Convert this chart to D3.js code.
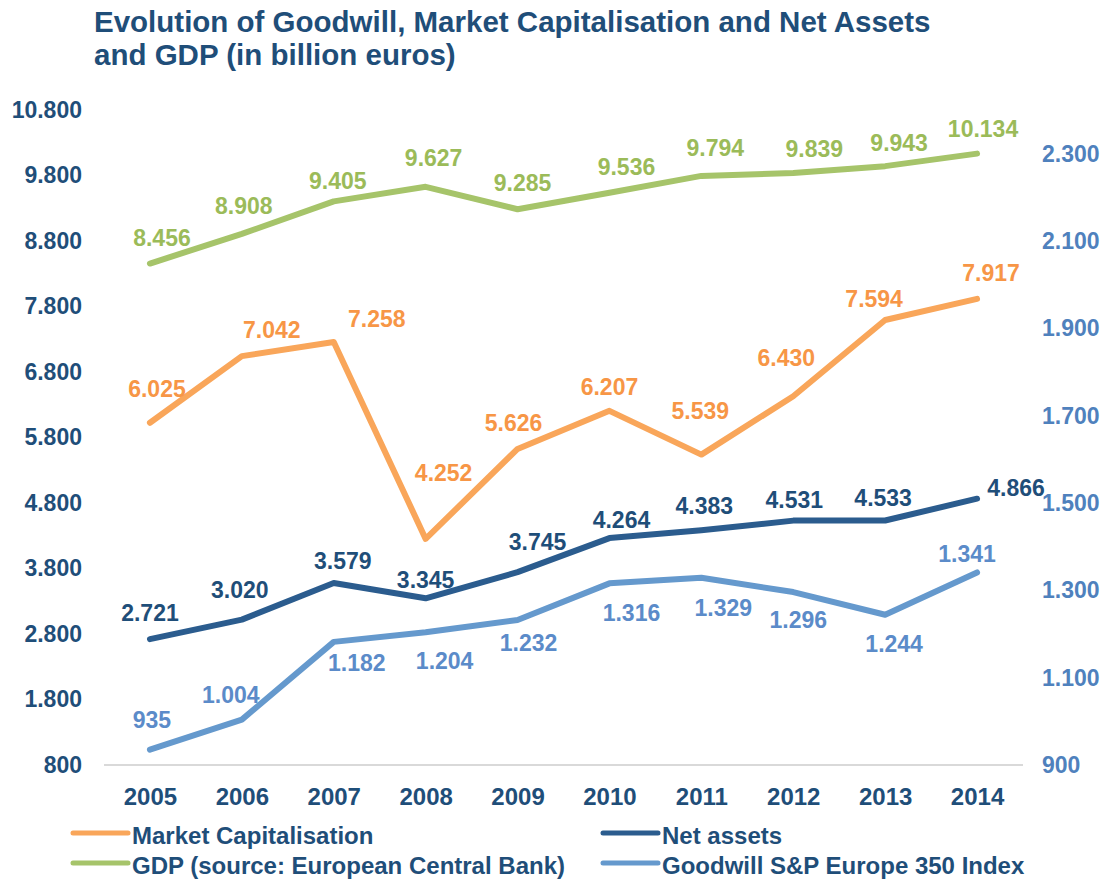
<!DOCTYPE html>
<html>
<head>
<meta charset="utf-8">
<script src="https://cdn.jsdelivr.net/npm/d3@7"></script>
<style>
  body { margin: 0; background: #fff; }
  text { font-family: "Liberation Sans", Arial, sans-serif; font-weight: bold; }
</style>
</head>
<body>
<div id="chart"></div>
<script>
// data (billion euros)
const years = ["2005", "2006", "2007", "2008", "2009", "2010", "2011", "2012", "2013", "2014"];
const marketCap = [6025, 7042, 7258, 4252, 5626, 6207, 5539, 6430, 7594, 7917];
const gdp = [8456, 8908, 9405, 9627, 9285, 9536, 9794, 9839, 9943, 10134];
const netAssets = [2721, 3020, 3579, 3345, 3745, 4264, 4383, 4531, 4533, 4866];
const goodwill = [935, 1004, 1182, 1204, 1232, 1316, 1329, 1296, 1244, 1341];
const leftTicks = [800, 1800, 2800, 3800, 4800, 5800, 6800, 7800, 8800, 9800, 10800];
const rightTicks = [900, 1100, 1300, 1500, 1700, 1900, 2100, 2300];

const width = 1110;
const height = 881;
const navy = "#1F4E79";

const svg = d3.select("#chart")
    .append("svg")
    .attr("width", width)
    .attr("height", height);

// scales
const x = d3.scalePoint().domain(years).range([104, 1023]).padding(0.5);
const yLeft = d3.scaleLinear().domain([800, 10800]).range([765, 110]);
const yRight = d3.scaleLinear().domain([900, 2400]).range([765, 110]);

// 1.234 style numbers
const fmt = d3.formatLocale({ decimal: ",", thousands: ".", grouping: [3], currency: ["", ""] }).format(",d");

// title
const title = svg.append("text")
    .attr("x", 94)
    .attr("y", 32)
    .attr("fill", navy)
    .style("font-size", "29.5px");
title.append("tspan").attr("x", 94).text("Evolution of Goodwill, Market Capitalisation and Net Assets");
title.append("tspan").attr("x", 94).attr("dy", 33).text("and GDP (in billion euros)");

// baseline
svg.append("line")
    .attr("x1", 104).attr("x2", 1023)
    .attr("y1", 765).attr("y2", 765)
    .attr("stroke", "#D9D9D9")
    .attr("stroke-width", 2);

// axes
const leftAxis = svg.append("g")
    .attr("transform", "translate(82,0)")
    .call(d3.axisLeft(yLeft).tickValues(leftTicks).tickFormat(fmt).tickSize(0).tickPadding(0));
const rightAxis = svg.append("g")
    .attr("transform", "translate(1042,0)")
    .call(d3.axisRight(yRight).tickValues(rightTicks).tickFormat(fmt).tickSize(0).tickPadding(0));
const xAxis = svg.append("g")
    .attr("transform", "translate(0,765)")
    .call(d3.axisBottom(x).tickSize(0).tickPadding(23));

[leftAxis, rightAxis, xAxis].forEach(function (g) {
    g.select(".domain").remove();
    g.selectAll("text")
        .attr("font-family", null)
        .style("font-size", "23px")
        .attr("fill", navy);
});
xAxis.selectAll("text").style("font-size", "24px");
rightAxis.selectAll("text").attr("fill", "#4F81BD");

// series
const series = [
    { name: "GDP (source: European Central Bank)", values: gdp, y: yLeft, line: "#A6C46A", label: "#9BBB59",
      nudge: [[12, -26], [2, -28], [4, -20], [8, -29], [5, -26], [17, -26], [14, -28], [21, -24], [14, -23], [6, -25]] },
    { name: "Market Capitalisation", values: marketCap, y: yLeft, line: "#F9A65A", label: "#F79646",
      nudge: [[7, -34], [30, -26], [43, -23], [18, -66], [-4, -26], [0, -24], [-1, -44], [-7, -38], [-11, -21], [14, -26]] },
    { name: "Net assets", values: netAssets, y: yLeft, line: "#2B5C8E", label: navy,
      nudge: [[0, -26], [-2, -30], [9, -22], [0, -18], [20, -30], [12, -18], [3, -24], [1, -21], [-2, -22], [39, -11]] },
    { name: "Goodwill S&P Europe 350 Index", values: goodwill, y: yRight, line: "#6599CD", label: "#5B8BC9",
      nudge: [[2, -30], [-11, -25], [23, 21], [19, 29], [11, 23], [22, 30], [22, 30], [5, 28], [9, 29], [-10, -18]] }
];

series.forEach(function (s) {
    const pts = years.map(function (yr, i) { return [x(yr), s.y(s.values[i])]; });

    svg.append("path")
        .datum(pts)
        .attr("fill", "none")
        .attr("stroke", s.line)
        .attr("stroke-width", 6)
        .attr("stroke-linecap", "round")
        .attr("stroke-linejoin", "round")
        .attr("d", d3.line());

    svg.append("g")
        .selectAll("text")
        .data(pts)
        .join("text")
        .attr("x", function (d, i) { return d[0] + s.nudge[i][0]; })
        .attr("y", function (d, i) { return d[1] + s.nudge[i][1]; })
        .attr("text-anchor", "middle")
        .attr("dominant-baseline", "central")
        .attr("fill", s.label)
        .style("font-size", "23px")
        .text(function (d, i) { return fmt(s.values[i]); });
});

// legend
const legendItems = [
    { s: series[1], x: 73, y: 833 },
    { s: series[2], x: 603, y: 833 },
    { s: series[0], x: 73, y: 863 },
    { s: series[3], x: 603, y: 863 }
];
const legend = svg.append("g");
legendItems.forEach(function (it) {
    legend.append("line")
        .attr("x1", it.x).attr("x2", it.x + 55)
        .attr("y1", it.y).attr("y2", it.y)
        .attr("stroke", it.s.line)
        .attr("stroke-width", 5)
        .attr("stroke-linecap", "round");
    legend.append("text")
        .attr("x", it.x + 59)
        .attr("y", it.y + 2)
        .attr("dominant-baseline", "central")
        .attr("fill", navy)
        .style("font-size", "24px")
        .text(it.s.name);
});
</script>
</body>
</html>
